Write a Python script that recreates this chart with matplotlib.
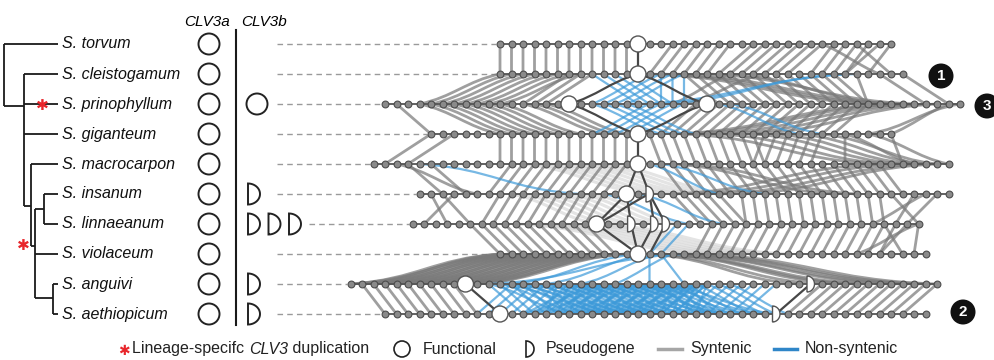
import numpy as np
import matplotlib
matplotlib.use("Agg")
import matplotlib.pyplot as plt
from matplotlib.path import Path
from matplotlib.patches import PathPatch, Circle, Polygon

# ---------------- data ----------------
species = ['S. torvum', 'S. cleistogamum', 'S. prinophyllum', 'S. giganteum',
           'S. macrocarpon', 'S. insanum', 'S. linnaeanum', 'S. violaceum',
           'S. anguivi', 'S. aethiopicum']
clv3a_kind = ['F'] * 10
clv3b_kind = ['', '', 'F', '', '', 'P', 'PPP', '', 'P', 'P']

# genes per locus (in gene-slot units relative to S. torvum)
gene_offset = [0, 0, -10, -6, -11, -7, -7.6, 0, -13, -10]
gene_count = [35, 36, 51, 41, 51, 47, 45, 38, 52, 48]
clv3_func_idx = [[12], [12], [16, 28], [18], [23], [18], [16], [12], [10], [10]]
clv3_pseudo_idx = [[], [], [], [], [], [20], [19, 21, 22], [], [40], [34]]

# phylogeny: internal node -> children (ints are species rows)
tree_children = {'R': [0, 'B'], 'B': [1, 2, 3, 'C'], 'C': [4, 'D'],
                 'D': ['E', 7, 'G'], 'E': [5, 6], 'G': [8, 9]}

# link blocks: (row_a, gene_a, row_b, gene_b, n_consecutive, kind)
# kind: s = syntenic, n = non-syntenic, c = CLV3 homolog link, f = faint
links = [
    # torvum - cleistogamum
    (0, 0, 1, 0, 12, 's'), (0, 12, 1, 12, 1, 'c'),
    (0, 15, 1, 13, 6, 's'), (0, 22, 1, 19, 7, 's'), (0, 29, 1, 27, 4, 's'),
    (0, 33, 1, 30, 1, 's'), (0, 34, 1, 32, 1, 's'), (0, 31, 1, 34, 1, 's'), (0, 28, 1, 33, 1, 's'),
    # cleistogamum - prinophyllum
    (2, 3, 1, 0, 8, 's'), (2, 12, 1, 6, 3, 's'),
    (1, 12, 2, 16, 1, 'c'), (1, 12, 2, 28, 1, 'c'),
    (1, 8, 2, 22, 4, 'n'), (1, 13, 2, 18, 4, 'n'), (1, 14, 2, 24, 3, 'n'),
    (2, 22, 1, 31, 1, 'n'), (2, 24, 1, 30, 1, 'n'),
    (1, 16, 2, 29, 14, 's'),
    (1, 13, 2, 43, 1, 's'), (1, 14, 2, 44, 1, 's'), (1, 15, 2, 45, 1, 's'),
    (1, 18, 2, 46, 1, 's'), (1, 20, 2, 44, 1, 's'),
    (1, 33, 2, 47, 1, 's'), (1, 35, 2, 49, 1, 's'), (1, 31, 2, 42, 1, 's'),
    (2, 25, 1, 20, 1, 's'), (2, 26, 1, 23, 1, 's'),
    # prinophyllum - giganteum
    (2, 3, 3, 6, 8, 's'), (2, 12, 3, 15, 3, 's'), (2, 1, 3, 0, 1, 's'),
    (2, 16, 3, 18, 1, 'c'), (2, 28, 3, 18, 1, 'c'),
    (2, 18, 3, 20, 4, 'n'), (2, 23, 3, 14, 4, 'n'),
    (2, 29, 3, 32, 1, 'n'), (2, 30, 3, 34, 1, 'n'),
    (3, 20, 2, 27, 16, 's'),
    (3, 21, 2, 44, 1, 's'), (3, 22, 2, 45, 1, 's'), (3, 24, 2, 46, 1, 's'),
    (3, 26, 2, 47, 1, 's'), (3, 28, 2, 48, 1, 's'),
    (3, 38, 2, 50, 1, 's'), (3, 40, 2, 49, 1, 's'),
    # giganteum - macrocarpon
    (3, 0, 4, 1, 1, 's'), (3, 2, 4, 3, 1, 's'),
    (3, 6, 4, 11, 12, 's'), (3, 18, 4, 23, 1, 'c'),
    (3, 19, 4, 25, 10, 's'), (3, 29, 4, 33, 6, 's'),
    (3, 22, 4, 44, 1, 's'), (3, 25, 4, 45, 1, 's'), (3, 28, 4, 46, 1, 's'),
    (3, 30, 4, 47, 1, 's'), (3, 32, 4, 48, 1, 's'), (3, 34, 4, 49, 1, 's'),
    (3, 36, 4, 47, 1, 's'), (3, 38, 4, 50, 1, 's'), (3, 40, 4, 46, 1, 's'),
    (3, 36, 4, 41, 1, 's'),
    # macrocarpon - insanum
    (4, 3, 5, 2, 1, 's'), (4, 5, 5, 4, 1, 's'), (4, 2, 5, 5, 1, 's'),
    (5, 6, 4, 12, 11, 's'),
    (4, 23, 5, 18, 1, 'c'), (4, 23, 5, 20, 1, 'c'),
    (4, 25, 5, 23, 20, 's'),
    (4, 44, 5, 22, 1, 's'), (4, 46, 5, 24, 1, 's'), (4, 48, 5, 26, 1, 's'), (4, 49, 5, 28, 1, 's'),
    (4, 26, 5, 36, 1, 's'), (4, 27, 5, 38, 1, 's'),
    (4, 4, 5, 14, 1, 'n'), (4, 24, 5, 26, 1, 'n'), (4, 25, 5, 30, 1, 'n'),
    (4, 13, 5, 20, 8, 'f'),
    # insanum - linnaeanum
    (5, 1, 6, 3, 1, 's'), (5, 3, 6, 1, 1, 's'), (5, 2, 6, 5, 1, 's'),
    (6, 6, 5, 7, 10, 's'),
    (5, 18, 6, 16, 1, 'c'), (5, 18, 6, 19, 1, 'c'), (5, 20, 6, 21, 1, 'c'),
    (5, 20, 6, 22, 1, 'c'), (5, 20, 6, 16, 1, 'c'),
    (5, 22, 6, 25, 5, 's'), (5, 28, 6, 29, 13, 's'),
    (5, 41, 6, 44, 1, 's'), (5, 43, 6, 42, 1, 's'), (5, 44, 6, 40, 1, 's'), (5, 45, 6, 43, 1, 's'),
    (5, 19, 6, 27, 1, 'n'), (5, 16, 6, 24, 1, 'n'),
    (5, 8, 6, 16, 8, 'f'),
    # linnaeanum - violaceum
    (6, 5, 7, 0, 11, 's'),
    (6, 16, 7, 12, 1, 'c'), (6, 19, 7, 12, 1, 'c'), (6, 21, 7, 12, 1, 'c'), (6, 22, 7, 13, 1, 'c'),
    (7, 17, 6, 26, 17, 's'),
    (7, 33, 6, 43, 1, 's'), (7, 35, 6, 41, 1, 's'), (7, 31, 6, 44, 1, 's'), (7, 36, 6, 44, 1, 's'),
    (6, 23, 7, 13, 1, 'n'), (6, 24, 7, 14, 1, 'n'),
    (6, 9, 7, 18, 8, 'f'),
    # violaceum - anguivi
    (8, 0, 7, 0, 12, 's'), (8, 1, 7, 0, 11, 's'), (8, 0, 7, 1, 11, 's'),
    (7, 13, 8, 39, 1, 's'), (7, 13, 8, 41, 1, 's'), (7, 14, 8, 43, 1, 's'), (7, 14, 8, 44, 1, 's'),
    (7, 14, 8, 45, 1, 's'), (7, 15, 8, 47, 1, 's'), (7, 15, 8, 48, 1, 's'), (7, 16, 8, 49, 1, 's'),
    (7, 16, 8, 50, 1, 's'), (7, 17, 8, 51, 1, 's'),
    (7, 12, 8, 14, 1, 'n'), (7, 13, 8, 17, 1, 'n'), (7, 14, 8, 20, 1, 'n'), (7, 15, 8, 23, 1, 'n'),
    (7, 13, 8, 26, 1, 'n'), (7, 16, 8, 12, 1, 'n'), (7, 14, 8, 29, 1, 'n'),
    # anguivi - aethiopicum
    (8, 1, 9, 0, 9, 's'), (8, 10, 9, 10, 1, 'c'), (8, 40, 9, 34, 1, 'c'),
    (9, 35, 8, 41, 11, 's'),
    (8, 12, 9, 12, 18, 'n'), (8, 14, 9, 8, 18, 'n'), (8, 13, 9, 20, 15, 'n'),
    (8, 20, 9, 12, 12, 'n'), (8, 30, 9, 24, 8, 'n'), (8, 26, 9, 28, 8, 'n'),
    (8, 12, 9, 16, 14, 'n'), (8, 18, 9, 14, 14, 'n'), (8, 22, 9, 12, 10, 'n'),
]

callouts = ['1', '3', '2']
legend_labels = ['Lineage-specifc ', 'CLV3', ' duplication', 'Functional',
                 'Pseudogene', 'Syntenic', 'Non-syntenic']

# ---------------- layout ----------------
FONT = 'Liberation Sans'
X0, DX = 500.0, 11.5
def ry(r):
    return 44 + 30 * r
def gx(r, i):
    return X0 + DX * (gene_offset[r] + i)

fig = plt.figure(figsize=(9.95, 3.6), dpi=100)
ax = fig.add_axes([0, 0, 1, 1])
ax.set_xlim(0, 995)
ax.set_ylim(360, 0)
ax.axis('off')

def dshape(x_left, y, w, h, **kw):
    t = np.linspace(-np.pi / 2, np.pi / 2, 40)
    pts = np.column_stack([x_left + w * np.cos(t), y + (h / 2) * np.sin(t)])
    return Polygon(pts, closed=True, **kw)

# ---- tree ----
tree_x = {'R': 4, 'B': 24, 'C': 31, 'D': 35, 'E': 44, 'G': 53}
tree_y = {'B': 106, 'C': 206, 'D': 246, 'E': 209, 'G': 298}
def node_y(n):
    return ry(n) if isinstance(n, int) else tree_y[n]
for node, kids in tree_children.items():
    x = tree_x[node]
    ys = [node_y(k) for k in kids]
    ax.plot([x, x], [min(ys), max(ys)], color='#1a1a1a', lw=1.3, solid_capstyle='butt')
    for k in kids:
        xe = 58 if isinstance(k, int) else tree_x[k]
        ax.plot([x, xe], [node_y(k)] * 2, color='#1a1a1a', lw=1.3, solid_capstyle='butt')

for (sx, sy) in [(42, 106), (23, 246)]:
    ax.text(sx, sy, '\u2731', color='#e8262b', fontsize=11, ha='center', va='center',
            family='DejaVu Sans', zorder=10)

for r, name in enumerate(species):
    ax.text(62, ry(r), name, fontsize=11.5, style='italic', family=FONT,
            ha='left', va='center', color='#111')

# ---- CLV3 columns ----
ax.text(207, 22, 'CLV3a', fontsize=11, style='italic', family=FONT, ha='center', va='center')
ax.text(264, 22, 'CLV3b', fontsize=11, style='italic', family=FONT, ha='center', va='center')
ax.plot([236, 236], [30, 325], color='#1a1a1a', lw=1.5)

for r in range(10):
    y = ry(r)
    if clv3a_kind[r] == 'F':
        ax.add_patch(Circle((209, y), 10.5, fc='white', ec='#222', lw=1.4, zorder=5))
    right = 236
    kind = clv3b_kind[r]
    if kind == 'F':
        ax.add_patch(Circle((257, y), 10.5, fc='white', ec='#222', lw=1.4, zorder=5))
        right = 267
    elif kind:
        for j, _ in enumerate(kind):
            xl = 248 + 20.5 * j
            ax.add_patch(dshape(xl, y, 12, 21, fc='white', ec='#222', lw=1.4, zorder=5))
            right = xl + 12
    xs = max(277, right + 8)
    ax.plot([xs, gx(r, 0) - 4], [y, y], color='#9a9a9a', lw=1.0, dashes=(4, 3), zorder=1)

# ---- links ----
styles = {
    's': dict(color='#7a7a7a', lw=2.0, alpha=0.72, zorder=2),
    'n': dict(color='#3d9ad9', lw=1.6, alpha=0.7, zorder=3),
    'f': dict(color='#d2d2d2', lw=2.2, alpha=0.6, zorder=1),
    'c': dict(color='#474747', lw=1.6, alpha=1.0, zorder=4),
}
for (ra, ia, rb, ib, n, kind) in links:
    st = styles[kind]
    for k in range(n):
        x1, y1 = gx(ra, ia + k), ry(ra)
        x2, y2 = gx(rb, ib + k), ry(rb)
        dx, dy = x2 - x1, y2 - y1
        w = min(1.0, 45.0 / max(abs(dx), 1e-6))
        a = w / 3 + 0.5 * (1 - w)
        b = w / 3 + 0.08 * (1 - w)
        verts = [(x1, y1), (x1 + a * dx, y1 + b * dy),
                 (x2 - a * dx, y2 - b * dy), (x2, y2)]
        p = Path(verts, [Path.MOVETO, Path.CURVE4, Path.CURVE4, Path.CURVE4])
        ax.add_patch(PathPatch(p, fc='none', ec=st['color'], lw=st['lw'],
                               alpha=st['alpha'], zorder=st['zorder'], capstyle='round'))

# ---- gene rows ----
for r in range(10):
    y = ry(r)
    n = gene_count[r]
    ax.plot([gx(r, 0), gx(r, n - 1)], [y, y], color='#555555', lw=1.3, zorder=5)
    special = set(clv3_func_idx[r]) | set(clv3_pseudo_idx[r])
    idx = [i for i in range(n) if i not in special]
    ax.scatter([gx(r, i) for i in idx], [y] * len(idx), s=24, c='#8a8a8a',
               edgecolors='#4d4d4d', linewidths=0.8, zorder=6)
    for i in clv3_func_idx[r]:
        ax.add_patch(Circle((gx(r, i), y), 8, fc='white', ec='#555', lw=1.0, zorder=7))
    for i in clv3_pseudo_idx[r]:
        ax.add_patch(dshape(gx(r, i) - 3.5, y, 7.5, 16, fc='white', ec='#555', lw=1.0, zorder=7))

# ---- callouts ----
for lab, (cx, cy) in zip(callouts, [(941, 76), (987, 106), (963, 312)]):
    ax.add_patch(Circle((cx, cy), 12.5, fc='#111', ec='none', zorder=8))
    ax.text(cx, cy + 0.5, lab, color='white', fontsize=11, fontweight='bold', family=FONT,
            ha='center', va='center', zorder=9)

# ---- legend ----
LY = 349
ax.text(124, LY + 2, '\u2731', color='#e8262b', fontsize=10, ha='center', va='center',
        family='DejaVu Sans')
fig.canvas.draw()
rend = fig.canvas.get_renderer()
inv = ax.transData.inverted()
xcur = 132
for txt, sty in [(legend_labels[0], 'normal'), (legend_labels[1], 'italic'), (legend_labels[2], 'normal')]:
    t = ax.text(xcur, LY, txt, fontsize=11.5, family=FONT, style=sty, ha='left', va='center', color='#222')
    bb = t.get_window_extent(renderer=rend)
    xcur = inv.transform((bb.x1, 0))[0]
ax.add_patch(Circle((402, LY), 8, fc='white', ec='#222', lw=1.2))
ax.text(423, LY, legend_labels[3], fontsize=11.5, family=FONT, ha='left', va='center', color='#222')
ax.add_patch(dshape(526, LY, 8, 16, fc='white', ec='#222', lw=1.2))
ax.text(546, LY, legend_labels[4], fontsize=11.5, family=FONT, ha='left', va='center', color='#222')
ax.plot([658, 682], [LY, LY], color='#a6a6a6', lw=2.5)
ax.text(690, LY, legend_labels[5], fontsize=11.5, family=FONT, ha='left', va='center', color='#222')
ax.plot([774, 797], [LY, LY], color='#2f86c8', lw=2.5)
ax.text(805, LY, legend_labels[6], fontsize=11.5, family=FONT, ha='left', va='center', color='#222')

fig.savefig('out.png', dpi=100)
